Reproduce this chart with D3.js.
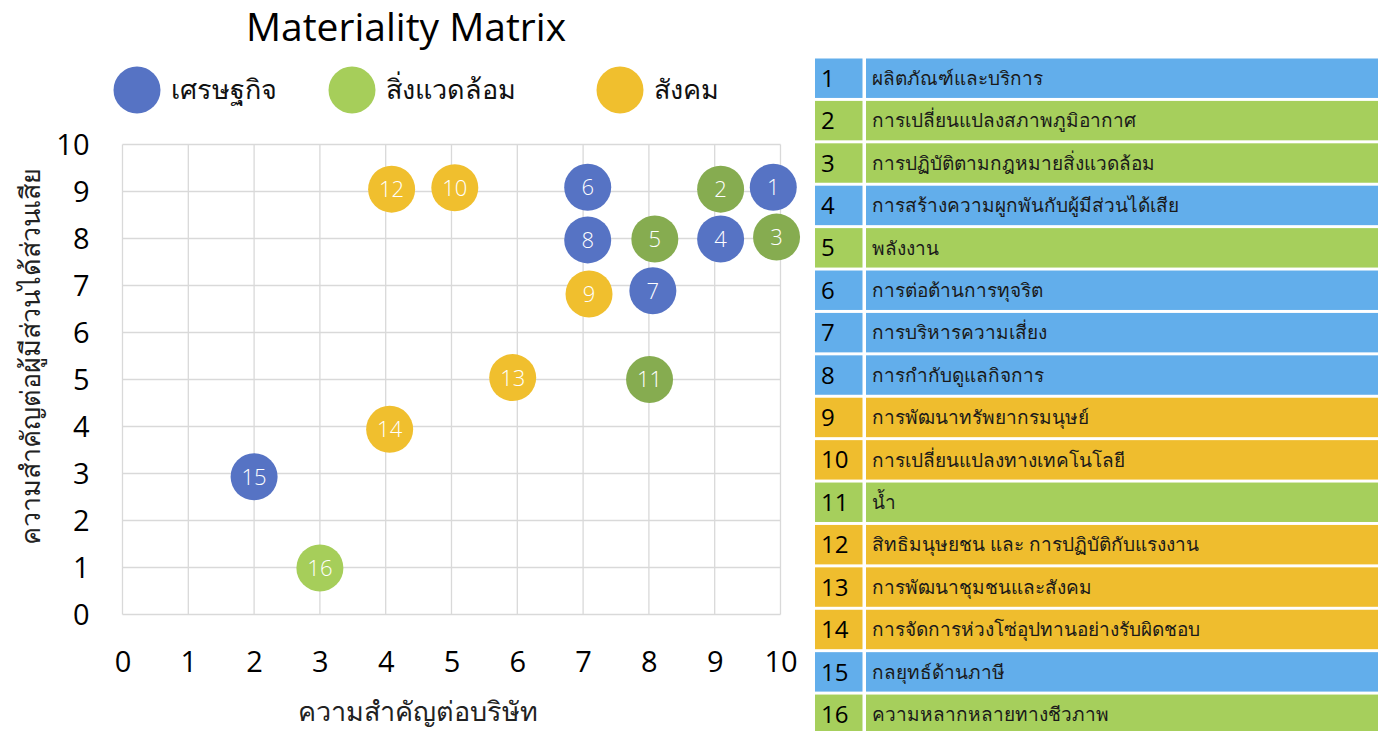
<!DOCTYPE html>
<html>
<head>
<meta charset="utf-8">
<script src="https://cdn.jsdelivr.net/npm/d3@7"></script>
<style>
  body { margin: 0; background: #fff; }
  text { font-family: "Open Sans", "Noto Sans", sans-serif; }
</style>
</head>
<body>
<div class="canvas"></div>
<script>
// chart data
const groupNames = ['เศรษฐกิจ', 'สิ่งแวดล้อม', 'สังคม'];
const topicIds = [1, 2, 3, 4, 5, 6, 7, 8, 9, 10, 11, 12, 13, 14, 15, 16];
const topicGroups = [0, 1, 1, 0, 1, 0, 0, 0, 2, 2, 1, 2, 2, 2, 0, 1];
const companyScore = [9.89, 9.09, 9.94, 9.09, 8.09, 7.07, 8.06, 7.07, 7.09, 5.05, 8.01, 4.09, 5.93, 4.06, 2.0, 3.0];
const stakeholderScore = [9.09, 9.05, 8.03, 7.99, 7.99, 9.09, 6.89, 7.97, 6.82, 9.08, 5.0, 9.05, 5.04, 3.94, 2.93, 0.99];
const topicNames = [
  'ผลิตภัณฑ์และบริการ',
  'การเปลี่ยนแปลงสภาพภูมิอากาศ',
  'การปฏิบัติตามกฎหมายสิ่งแวดล้อม',
  'การสร้างความผูกพันกับผู้มีส่วนได้เสีย',
  'พลังงาน',
  'การต่อต้านการทุจริต',
  'การบริหารความเสี่ยง',
  'การกำกับดูแลกิจการ',
  'การพัฒนาทรัพยากรมนุษย์',
  'การเปลี่ยนแปลงทางเทคโนโลยี',
  'น้ำ',
  'สิทธิมนุษยชน และ การปฏิบัติกับแรงงาน',
  'การพัฒนาชุมชนและสังคม',
  'การจัดการห่วงโซ่อุปทานอย่างรับผิดชอบ',
  'กลยุทธ์ด้านภาษี',
  'ความหลากหลายทางชีวภาพ'
];
const axisTicks = [0, 1, 2, 3, 4, 5, 6, 7, 8, 9, 10];
const chartTitle = 'Materiality Matrix';
const xTitle = 'ความสำคัญต่อบริษัท';
const yTitle = 'ความสำคัญต่อผู้มีส่วนได้ส่วนเสีย';

// colours
const legendColour = ['#5673C4', '#A6CE5A', '#F0BF2E'];
const bubbleColour = ['#5673C4', '#86AC50', '#F0BF2E'];
const tableColour = ['#62AEEB', '#A6CF5C', '#EFBD2E'];

const points = topicIds.map((id, i) => ({
  id: id,
  group: topicGroups[i],
  x: companyScore[i],
  y: stakeholderScore[i],
  name: topicNames[i]
}));

const svg = d3.select('.canvas')
  .append('svg')
    .attr('width', 1385)
    .attr('height', 731);

// plot area
const plot = { left: 122.5, right: 780.5, top: 144.5, bottom: 614.5 };
const x = d3.scaleLinear().domain([0, 10]).range([plot.left, plot.right]);
const y = d3.scaleLinear().domain([0, 10]).range([plot.bottom, plot.top]);

// gridlines
const grid = svg.append('g').attr('class', 'grid');
grid.selectAll('.vline')
  .data(axisTicks)
  .enter().append('line')
    .attr('x1', d => x(d)).attr('x2', d => x(d))
    .attr('y1', plot.top).attr('y2', plot.bottom)
    .attr('stroke', '#d9d9d9')
    .attr('stroke-width', 1.3);
grid.selectAll('.hline')
  .data(axisTicks)
  .enter().append('line')
    .attr('x1', plot.left).attr('x2', plot.right)
    .attr('y1', d => y(d)).attr('y2', d => y(d))
    .attr('stroke', '#d9d9d9')
    .attr('stroke-width', 1.3);

// axes (labels only)
const xAxis = d3.axisBottom(x).tickValues(axisTicks).tickSize(0).tickPadding(0);
const yAxis = d3.axisLeft(y).tickValues(axisTicks).tickSize(0).tickPadding(0);

const xAxisGroup = svg.append('g')
  .attr('transform', `translate(0, ${plot.bottom + 57})`)
  .call(xAxis);
const yAxisGroup = svg.append('g')
  .attr('transform', `translate(${plot.left - 33}, 0)`)
  .call(yAxis);

[xAxisGroup, yAxisGroup].forEach(g => {
  g.select('.domain').remove();
  g.selectAll('text')
    .attr('font-family', '"Open Sans", sans-serif')
    .attr('font-size', 29)
    .attr('fill', '#000');
});
xAxisGroup.selectAll('text').attr('dy', 0);
yAxisGroup.selectAll('text').attr('dy', '0.36em');

// axis titles
svg.append('text')
  .attr('x', 418)
  .attr('y', 721)
  .attr('text-anchor', 'middle')
  .attr('font-size', 27)
  .attr('fill', '#222')
  .text(xTitle);

svg.append('text')
  .attr('transform', 'translate(40, 356) rotate(-90)')
  .attr('text-anchor', 'middle')
  .attr('font-size', 27)
  .attr('fill', '#222')
  .text(yTitle);

// title
svg.append('text')
  .attr('x', 406)
  .attr('y', 41)
  .attr('text-anchor', 'middle')
  .attr('font-size', 39)
  .attr('fill', '#000')
  .text(chartTitle);

// legend
const legendX = [137, 352, 620];
const legend = svg.selectAll('.legend')
  .data(groupNames)
  .enter().append('g')
    .attr('class', 'legend')
    .attr('transform', (d, i) => `translate(${legendX[i]}, 90)`);
legend.append('circle')
  .attr('r', 23.5)
  .attr('fill', (d, i) => legendColour[i]);
legend.append('text')
  .attr('x', 34)
  .attr('dy', '0.35em')
  .attr('font-size', 27)
  .attr('fill', '#111')
  .text(d => d);

// bubbles
const bubbles = svg.selectAll('.bubble')
  .data(points)
  .enter().append('g')
    .attr('class', 'bubble')
    .attr('transform', d => `translate(${x(d.x)}, ${y(d.y)})`);
bubbles.append('circle')
  .attr('r', 23.5)
  .attr('fill', d => d.id === 16 ? legendColour[1] : bubbleColour[d.group]);
bubbles.append('text')
  .attr('text-anchor', 'middle')
  .attr('dy', '0.36em')
  .attr('font-family', 'Lato, sans-serif')
  .attr('font-weight', 300)
  .attr('font-size', 22)
  .attr('fill', '#fff')
  .text(d => d.id);

// topic table
const rowY = d3.scaleBand()
  .domain(topicIds)
  .range([58.5, 734])
  .paddingInner(0.07);

const rows = svg.selectAll('.row')
  .data(points)
  .enter().append('g')
    .attr('class', 'row')
    .attr('transform', d => `translate(0, ${rowY(d.id)})`);
rows.append('rect')
  .attr('x', 815)
  .attr('width', 47.5)
  .attr('height', rowY.bandwidth())
  .attr('fill', d => tableColour[d.group]);
rows.append('rect')
  .attr('x', 866)
  .attr('width', 512)
  .attr('height', rowY.bandwidth())
  .attr('fill', d => tableColour[d.group]);
rows.append('text')
  .attr('x', 821)
  .attr('y', rowY.bandwidth() / 2)
  .attr('dy', '0.36em')
  .attr('font-size', 24)
  .attr('fill', '#000')
  .text(d => d.id);
rows.append('text')
  .attr('x', 872)
  .attr('y', rowY.bandwidth() / 2)
  .attr('dy', '0.36em')
  .attr('font-size', 19)
  .attr('fill', '#1a1a1a')
  .text(d => d.name);
</script>
</body>
</html>
